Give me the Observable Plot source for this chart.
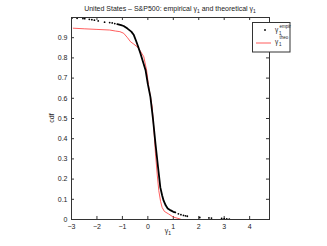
<!DOCTYPE html>
<html><head><meta charset="utf-8">
<script src="https://cdn.jsdelivr.net/npm/d3@7"></script>
<script src="https://cdn.jsdelivr.net/npm/@observablehq/plot@0.6"></script>
<style>body{margin:0;background:#fff}svg{font-family:"Liberation Sans",Arial,sans-serif}</style>
</head><body><div id="chart"></div>
<script>
const xTicks = [-3,-2,-1,0,1,2,3,4];
const yTicks = [0,0.1,0.2,0.3,0.4,0.5,0.6,0.7,0.8,0.9];
const xDomain = [-3, 4.78];
const yDomain = [0, 1];
// theoretical
const theoX = [-2.93,-2.5,-2.0,-1.5,-1.27,-1.1,-0.95,-0.8,-0.68,-0.55,-0.42,-0.3,-0.16,-0.05,0.035,0.1,0.17,0.24,0.30,0.37,0.43,0.50,0.56,0.65,0.82,1.0,1.28];
const theoY = [0.947,0.944,0.941,0.938,0.933,0.93,0.922,0.9,0.88,0.868,0.855,0.835,0.806,0.74,0.656,0.61,0.557,0.44,0.325,0.22,0.143,0.09,0.06,0.04,0.027,0.012,0.002];
// empirical (sparse tails)
const empTailX = [-2.98,-2.78,-2.55,-2.48,-2.3,-2.2,-2.1,-1.95,-1.7,-1.5,-1.4,-1.3,1.2,1.3,1.4,1.48,1.55,2.04,2.4,2.5,2.9,3.0,3.1,3.2];
const empTailY = [0.998,0.996,0.995,0.994,0.991,0.989,0.987,0.983,0.977,0.975,0.973,0.97,0.028,0.024,0.02,0.018,0.016,0.01,0.008,0.007,0.005,0.004,0.003,0.002];
// empirical (dense body)
const empBodyX = [-1.2,-1.05,-0.95,-0.8,-0.65,-0.55,-0.45,-0.38,-0.29,-0.2,-0.09,0.0,0.1,0.2,0.3,0.4,0.49,0.56,0.62,0.7,0.78,0.9,1.0,1.08];
const empBodyY = [0.967,0.962,0.958,0.945,0.93,0.913,0.88,0.855,0.822,0.785,0.739,0.67,0.607,0.5,0.375,0.26,0.159,0.12,0.093,0.07,0.055,0.045,0.038,0.035];

const theo = theoX.map((x,i)=>({x, y: theoY[i]}));
const tail = empTailX.map((x,i)=>({x, y: empTailY[i]}));
const body = empBodyX.map((x,i)=>({x, y: empBodyY[i]}));
const ax = "#333";
const tx = 0.118, ty = 0.015;

const plot = Plot.plot({
  width: 327, height: 246,
  marginLeft: 71, marginRight: 58, marginTop: 17, marginBottom: 27,
  style: {fontSize: "7px", fontFamily: "Liberation Sans, Arial, sans-serif", color: "#222"},
  x: {domain: xDomain, ticks: xTicks, tickFormat: d => d < 0 ? "\u2212" + Math.abs(d) : String(d), tickSize: 0, tickPadding: 5, label: null},
  y: {domain: yDomain, ticks: yTicks, tickFormat: d => String(d), tickSize: 0, tickPadding: 4, label: null},
  marks: [
    Plot.ruleX(xTicks, {y1: 0, y2: ty, stroke: ax}),
    Plot.ruleX(xTicks, {y1: 1, y2: 1 - ty, stroke: ax}),
    Plot.ruleY(yTicks, {x1: xDomain[0], x2: xDomain[0] + tx, stroke: ax}),
    Plot.ruleY(yTicks, {x1: xDomain[1], x2: xDomain[1] - tx, stroke: ax}),
    Plot.line(theo, {x: "x", y: "y", stroke: "#ff3333", strokeWidth: 0.8}),
    Plot.line(body, {x: "x", y: "y", stroke: "#000", strokeWidth: 1.8}),
    Plot.dot(tail, {x: "x", y: "y", r: 0.9, fill: "#000", stroke: null}),
    Plot.frame({stroke: ax})
  ]
});
document.getElementById("chart").appendChild(plot);

const svg = d3.select(plot);
const font = "Liberation Sans, Arial, sans-serif";
function txt(g, x, y, size, s, anchor) {
  return g.append("text").attr("x", x).attr("y", y).attr("font-size", size).attr("font-family", font).attr("fill", "#222").attr("text-anchor", anchor || "start").text(s);
}
// title
const title = svg.append("text").attr("x", 170).attr("y", 11).attr("text-anchor", "middle").attr("font-size", 7).attr("font-family", font).attr("fill", "#222");
title.append("tspan").text("United States \u2013 S&P500: empirical \u03b3");
title.append("tspan").attr("font-size", 5).attr("dy", 2).text("1");
title.append("tspan").attr("dy", -2).text(" and theoretical \u03b3");
title.append("tspan").attr("font-size", 5).attr("dy", 2).text("1");
// x label
const xl = svg.append("text").attr("x", 168).attr("y", 233).attr("text-anchor", "middle").attr("font-size", 7).attr("font-family", font).attr("fill", "#222");
xl.append("tspan").text("\u03b3");
xl.append("tspan").attr("font-size", 5).attr("dy", 2).text("1");
// y label
svg.append("text").attr("transform", "translate(54,118) rotate(-90)").attr("text-anchor", "middle").attr("font-size", 7).attr("font-family", font).attr("fill", "#222").text("cdf");
// legend
const lg = svg.append("g");
lg.append("rect").attr("x", 252.5).attr("y", 22.5).attr("width", 37.5).attr("height", 29.5).attr("fill", "#fff").attr("stroke", ax).attr("stroke-width", 1);
lg.append("circle").attr("cx", 265).attr("cy", 30).attr("r", 0.9).attr("fill", "#000");
txt(lg, 275, 32, 6.5, "\u03b3");
txt(lg, 279, 34.5, 4.5, "1");
txt(lg, 279.5, 27.5, 4.5, "empir");
lg.append("line").attr("x1", 256).attr("x2", 271).attr("y1", 43).attr("y2", 43).attr("stroke", "#ff3333").attr("stroke-width", 0.8);
txt(lg, 275, 43.5, 6.5, "\u03b3");
txt(lg, 279, 46, 4.5, "1");
txt(lg, 279.5, 39, 4.5, "theo");
</script>
</body></html>
